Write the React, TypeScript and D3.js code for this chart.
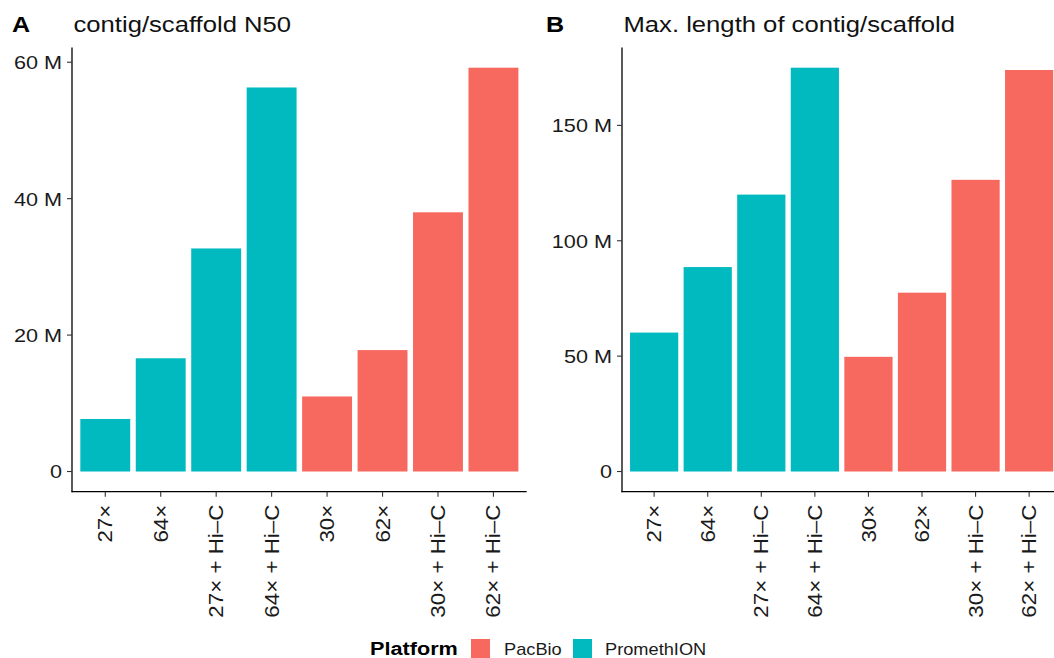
import React, { useEffect, useRef } from 'react';
import * as d3 from 'd3';

// values, in millions of bp
const categories = ['27×', '64×', '27× + Hi–C', '64× + Hi–C', '30×', '62×', '30× + Hi–C', '62× + Hi–C'];
const platforms = ['PromethION', 'PromethION', 'PromethION', 'PromethION', 'PacBio', 'PacBio', 'PacBio', 'PacBio'];
const n50Values = [7.7, 16.6, 32.7, 56.3, 11.0, 17.8, 38.0, 59.2];
const maxLenValues = [60.2, 88.6, 120.0, 175.0, 49.7, 77.5, 126.4, 174.0];
const n50Ticks = [0, 20, 40, 60];
const maxLenTicks = [0, 50, 100, 150];
const legendItems = ['PacBio', 'PromethION'];

const colors: Record<string, string> = { PacBio: '#F7695F', PromethION: '#00BAC0' };
const FONT = '"Liberation Sans", Arial, Helvetica, sans-serif';
const SX = 1.14; // the reference text is a bit wider than Arial

type Panel = {
  letter: string;
  title: string;
  values: number[];
  ticks: number[];
  left: number;
  right: number;
  letterX: number;
};

const App = () => {
  const ref = useRef<SVGSVGElement>(null);

  useEffect(() => {
    const svg = d3.select(ref.current);
    svg.selectAll('*').remove();

    const top = 47.5;
    const bottom = 491.7;

    const panels: Panel[] = [
      { letter: 'A', title: 'contig/scaffold N50', values: n50Values, ticks: n50Ticks, left: 72, right: 526.7, letterX: 12 },
      { letter: 'B', title: 'Max. length of contig/scaffold', values: maxLenValues, ticks: maxLenTicks, left: 622, right: 1061.3, letterX: 546 },
    ];

    panels.forEach(p => {
      const g = svg.append('g');
      const maxV = d3.max(p.values) as number;
      const y = d3.scaleLinear()
        .domain([-0.05 * maxV, 1.05 * maxV])
        .range([bottom, top]);
      const x = d3.scaleBand()
        .domain(categories)
        .range([p.left, p.right])
        .paddingInner(0.1)
        .paddingOuter(0.15);

      // bars
      g.append('g')
        .selectAll('rect')
        .data(p.values)
        .join('rect')
        .attr('x', (d, i) => x(categories[i]) as number)
        .attr('y', d => y(d))
        .attr('width', x.bandwidth())
        .attr('height', d => y(0) - y(d))
        .attr('fill', (d, i) => colors[platforms[i]]);

      // axis lines
      g.append('line')
        .attr('x1', p.left).attr('x2', p.left)
        .attr('y1', top).attr('y2', bottom + 0.5)
        .attr('stroke', '#000').attr('stroke-width', 1.3);
      g.append('line')
        .attr('x1', p.left - 0.5).attr('x2', p.right)
        .attr('y1', bottom).attr('y2', bottom)
        .attr('stroke', '#000').attr('stroke-width', 1.3);

      // y ticks
      const yt = g.append('g').selectAll('g').data(p.ticks).join('g');
      yt.append('line')
        .attr('x1', p.left - 5).attr('x2', p.left)
        .attr('y1', d => y(d)).attr('y2', d => y(d))
        .attr('stroke', '#333').attr('stroke-width', 1.1);
      yt.append('text')
        .attr('transform', d => `translate(${p.left - 10},${y(d)}) scale(${SX},1)`)
        .attr('dy', '0.36em')
        .attr('text-anchor', 'end')
        .attr('font-family', FONT)
        .attr('font-size', 19)
        .attr('fill', '#1a1a1a')
        .text(d => (d === 0 ? '0' : `${d} M`));

      // x ticks
      const xt = g.append('g').selectAll('g').data(categories).join('g');
      const cx = (d: string) => (x(d) as number) + x.bandwidth() / 2;
      xt.append('line')
        .attr('x1', cx).attr('x2', cx)
        .attr('y1', bottom).attr('y2', bottom + 5)
        .attr('stroke', '#333').attr('stroke-width', 1.1);
      xt.append('text')
        .attr('transform', d => `translate(${cx(d)},${bottom + 13}) rotate(-90) scale(${SX},1)`)
        .attr('dy', '0.36em')
        .attr('text-anchor', 'end')
        .attr('font-family', FONT)
        .attr('font-size', 19.6)
        .attr('fill', '#1a1a1a')
        .text(d => d);

      // panel letter and title
      svg.append('text')
        .attr('transform', `translate(${p.letterX},32) scale(${SX},1)`)
        .attr('font-family', FONT)
        .attr('font-weight', 'bold')
        .attr('font-size', 22)
        .text(p.letter);
      svg.append('text')
        .attr('transform', `translate(${p.left + 1.5},32) scale(${SX},1)`)
        .attr('font-family', FONT)
        .attr('font-size', 22.5)
        .attr('fill', '#111')
        .text(p.title);
    });

    // legend
    const leg = svg.append('g');
    leg.append('text')
      .attr('transform', `translate(370,655) scale(${SX},1)`)
      .attr('font-family', FONT)
      .attr('font-weight', 'bold')
      .attr('font-size', 19)
      .text('Platform');
    const keyX = [471, 573];
    const labelX = [504, 605];
    legendItems.forEach((name, i) => {
      leg.append('rect')
        .attr('x', keyX[i]).attr('y', 639)
        .attr('width', 19).attr('height', 19)
        .attr('fill', colors[name]);
      leg.append('text')
        .attr('transform', `translate(${labelX[i]},655) scale(${SX},1)`)
        .attr('font-family', FONT)
        .attr('font-size', 16)
        .attr('fill', '#1a1a1a')
        .text(name);
    });
  }, []);

  return (
    <svg
      ref={ref}
      width={1054}
      height={658}
      style={{ position: 'absolute', left: 0, top: 0, background: '#fff' }}
    />
  );
};

export default App;
